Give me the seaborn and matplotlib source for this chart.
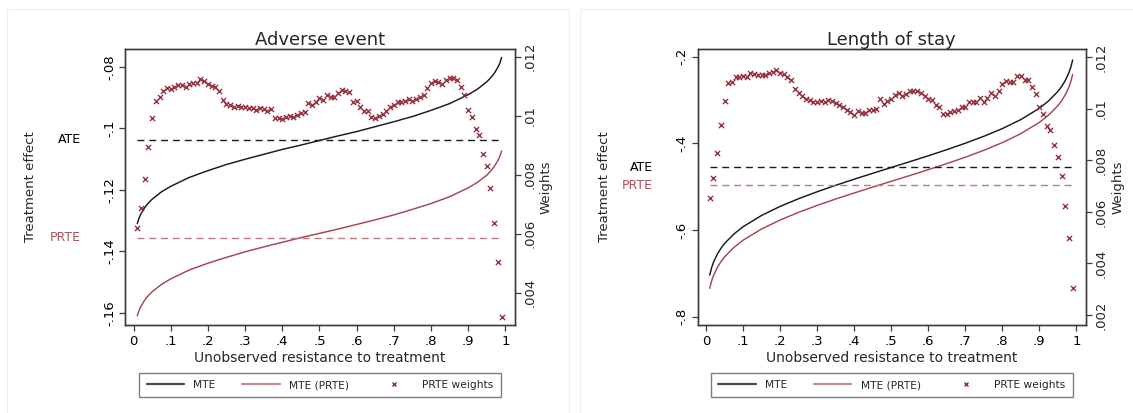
import numpy as np
import pandas as pd
import matplotlib
matplotlib.use("Agg")
import matplotlib.pyplot as plt
import seaborn as sns
from matplotlib.lines import Line2D
from matplotlib.patches import Rectangle

# ---------------- data ----------------
u_curve = [0.01, 0.015, 0.02, 0.03, 0.04, 0.05, 0.075, 0.1, 0.15, 0.2, 0.25, 0.3,
           0.35, 0.4, 0.45, 0.5, 0.55, 0.6, 0.65, 0.7, 0.75, 0.8, 0.85, 0.9,
           0.925, 0.95, 0.96, 0.97, 0.98, 0.985, 0.99]

ae_mte = [-0.1310, -0.1292, -0.1278, -0.1258, -0.1243, -0.1231, -0.1207, -0.1189,
          -0.1160, -0.1138, -0.1118, -0.1101, -0.1085, -0.1069, -0.1055, -0.1040,
          -0.1025, -0.1011, -0.0995, -0.0979, -0.0962, -0.0942, -0.0920, -0.0891,
          -0.0873, -0.0849, -0.0837, -0.0822, -0.0802, -0.0789, -0.0770]
ae_mte_prte = [-0.1610, -0.1592, -0.1579, -0.1559, -0.1544, -0.1532, -0.1508, -0.1490,
               -0.1461, -0.1439, -0.1420, -0.1402, -0.1386, -0.1371, -0.1356, -0.1342,
               -0.1328, -0.1313, -0.1298, -0.1282, -0.1264, -0.1245, -0.1223, -0.1194,
               -0.1176, -0.1153, -0.1140, -0.1125, -0.1105, -0.1092, -0.1074]
ae_ate = -0.1038
ae_prte = -0.1356

los_mte = [-0.7039, -0.6872, -0.6749, -0.6564, -0.6425, -0.6312, -0.6094, -0.5924,
           -0.5663, -0.5455, -0.5277, -0.5117, -0.4968, -0.4827, -0.4691, -0.4557,
           -0.4423, -0.4287, -0.4146, -0.3997, -0.3837, -0.3659, -0.3451, -0.3190,
           -0.3021, -0.2802, -0.2689, -0.2550, -0.2365, -0.2242, -0.2075]
los_mte_prte = [-0.7344, -0.7178, -0.7055, -0.6872, -0.6734, -0.6621, -0.6404, -0.6236,
                -0.5976, -0.5769, -0.5592, -0.5432, -0.5285, -0.5145, -0.5009, -0.4876,
                -0.4743, -0.4607, -0.4467, -0.4320, -0.4160, -0.3983, -0.3776, -0.3516,
                -0.3348, -0.3131, -0.3018, -0.2880, -0.2697, -0.2574, -0.2408]
los_ate = -0.4546
los_prte = -0.4961

u_w = [i / 100 for i in range(1, 100)]

ae_w = [0.00618, 0.00686, 0.00786, 0.00895, 0.00993, 0.01050, 0.01064, 0.01085, 0.01094, 0.01089,
        0.01098, 0.01103, 0.01105, 0.01097, 0.01106, 0.01110, 0.01112, 0.01125, 0.01118, 0.01106,
        0.01099, 0.01096, 0.01083, 0.01053, 0.01038, 0.01035, 0.01028, 0.01033, 0.01029, 0.01031,
        0.01027, 0.01025, 0.01019, 0.01027, 0.01023, 0.01017, 0.01023, 0.00993, 0.00993, 0.00990,
        0.00994, 0.00998, 0.00997, 0.01001, 0.01008, 0.01011, 0.01042, 0.01035, 0.01045, 0.01060,
        0.01053, 0.01069, 0.01063, 0.01064, 0.01078, 0.01086, 0.01085, 0.01081, 0.01048, 0.01050,
        0.01031, 0.01016, 0.01017, 0.00997, 0.00992, 0.00999, 0.01005, 0.01017, 0.01031, 0.01036,
        0.01046, 0.01045, 0.01051, 0.01055, 0.01051, 0.01058, 0.01064, 0.01071, 0.01093, 0.01112,
        0.01118, 0.01114, 0.01106, 0.01121, 0.01127, 0.01128, 0.01121, 0.01098, 0.01070, 0.01019,
        0.00997, 0.00955, 0.00935, 0.00869, 0.00831, 0.00755, 0.00635, 0.00505, 0.00319]

los_w = [0.00654, 0.00730, 0.00830, 0.00939, 0.01032, 0.01101, 0.01104, 0.01122, 0.01124, 0.01128,
         0.01124, 0.01140, 0.01135, 0.01133, 0.01131, 0.01131, 0.01141, 0.01144, 0.01150, 0.01141,
         0.01137, 0.01124, 0.01112, 0.01076, 0.01063, 0.01050, 0.01040, 0.01035, 0.01028, 0.01028,
         0.01032, 0.01028, 0.01035, 0.01031, 0.01024, 0.01015, 0.01006, 0.00994, 0.00986, 0.00977,
         0.00991, 0.00983, 0.00983, 0.00994, 0.00996, 0.01001, 0.01037, 0.01019, 0.01030, 0.01037,
         0.01053, 0.01060, 0.01051, 0.01058, 0.01069, 0.01069, 0.01069, 0.01063, 0.01050, 0.01040,
         0.01035, 0.01015, 0.01009, 0.00981, 0.00981, 0.00986, 0.00992, 0.00996, 0.01006, 0.01009,
         0.01028, 0.01026, 0.01028, 0.01041, 0.01028, 0.01042, 0.01060, 0.01050, 0.01069, 0.01096,
         0.01108, 0.01105, 0.01103, 0.01127, 0.01127, 0.01112, 0.01112, 0.01086, 0.01056, 0.01006,
         0.00980, 0.00932, 0.00917, 0.00860, 0.00815, 0.00740, 0.00624, 0.00500, 0.00306]

x_ticks = [0, 0.1, 0.2, 0.3, 0.4, 0.5, 0.6, 0.7, 0.8, 0.9, 1.0]
x_ticklabels = ["0", ".1", ".2", ".3", ".4", ".5", ".6", ".7", ".8", ".9", "1"]

ae_yticks = [-0.16, -0.14, -0.12, -0.10, -0.08]
ae_yticklabels = ["-.16", "-.14", "-.12", "-.1", "-.08"]
ae_wticks = [0.004, 0.006, 0.008, 0.010, 0.012]
ae_wticklabels = [".004", ".006", ".008", ".01", ".012"]

los_yticks = [-0.8, -0.6, -0.4, -0.2]
los_yticklabels = ["-.8", "-.6", "-.4", "-.2"]
los_wticks = [0.002, 0.004, 0.006, 0.008, 0.010, 0.012]
los_wticklabels = [".002", ".004", ".006", ".008", ".01", ".012"]

titles = ["Adverse event", "Length of stay"]
legend_labels = ["MTE", "MTE (PRTE)", "PRTE weights"]

# ---------------- style ----------------
sns.set_theme(style="ticks")
plt.rcParams["font.family"] = ["DejaVu Sans"]

BLACK = "#1a1a1a"
RED = "#a5464f"
RED_DASH = "#c07a80"
MARK = "#962d3a"
SPINE = "#3c3c3c"

W, H = 1133, 413
fig = plt.figure(figsize=(W / 100, H / 100), dpi=100)
fig.patch.set_facecolor("white")

# faint panel region borders
for x0, x1 in [(7, 569), (580, 1140)]:
    fig.add_artist(Rectangle((x0 / W, -0.02), (x1 - x0) / W, 1 - 9 / H + 0.02,
                             transform=fig.transFigure, fill=False,
                             edgecolor="#efefef", lw=0.8))

panels = [
    dict(box=(125, 515), title=titles[0], mte=ae_mte, mprte=ae_mte_prte, ate=ae_ate,
         prte=ae_prte, w=ae_w, yt=ae_yticks, ytl=ae_yticklabels, ylim=(-0.16400, -0.07424),
         wt=ae_wticks, wtl=ae_wticklabels, wlim=(0.002905, 0.01226),
         lab_x=-0.2256, ate_x=-0.1128, wlab_x=1.064),
    dict(box=(697.5, 1086), title=titles[1], mte=los_mte, mprte=los_mte_prte, ate=los_ate,
         prte=los_prte, w=los_w, yt=los_yticks, ytl=los_yticklabels, ylim=(-0.8192, -0.1822),
         wt=los_wticks, wtl=los_wticklabels, wlim=(0.001612, 0.012322),
         lab_x=-0.2226, ate_x=-0.1145, wlab_x=1.067),
]

for p in panels:
    x0, x1 = p["box"]
    ax = fig.add_axes([x0 / W, 1 - 325 / H, (x1 - x0) / W, 276 / H])
    ax.set_facecolor("white")
    df = pd.DataFrame({"u": u_curve, "MTE": p["mte"], "MTE (PRTE)": p["mprte"]})
    sns.lineplot(data=df, x="u", y="MTE", ax=ax, color=BLACK, lw=1.05)
    sns.lineplot(data=df, x="u", y="MTE (PRTE)", ax=ax, color=RED, lw=1.05)
    ax.hlines(p["ate"], u_curve[0], u_curve[-1], color=BLACK, lw=1.0,
              linestyles=[(0, (5, 3.5))])
    ax.hlines(p["prte"], u_curve[0], u_curve[-1], color=RED_DASH, lw=1.0,
              linestyles=[(0, (5, 3.5))])
    ax.set_xlim(-0.023, 1.026)
    ax.set_ylim(*p["ylim"])
    ax.set_xticks(x_ticks, x_ticklabels, fontsize=9.5)
    ax.set_yticks(p["yt"], p["ytl"], fontsize=9.5, rotation=90, va="center")
    ax.set_xlabel("Unobserved resistance to treatment", fontsize=10, labelpad=2)
    ax.set_ylabel("Treatment effect", fontsize=9.5)
    ax.yaxis.set_label_coords(p["lab_x"], 0.5)
    ax.set_title(p["title"], fontsize=13, pad=2.5)
    ax.tick_params(axis="both", direction="out", length=4.3, width=0.9, color=SPINE,
                   labelcolor="black")
    ax.tick_params(axis="x", pad=3)
    ax.tick_params(axis="y", pad=2)
    tr = matplotlib.transforms.blended_transform_factory(ax.transAxes, ax.transData)
    ax.text(p["ate_x"], p["ate"], "ATE", transform=tr, ha="right", va="center",
            fontsize=9, color="black")
    ax.text(p["ate_x"], p["prte"], "PRTE", transform=tr, ha="right", va="center",
            fontsize=9, color="#a9525a")

    ax2 = ax.twinx()
    sns.scatterplot(x=u_w, y=p["w"], ax=ax2, marker="x", color=MARK, s=14,
                    linewidth=0.95, legend=False)
    ax2.set_ylim(*p["wlim"])
    ax2.set_yticks(p["wt"], p["wtl"], fontsize=9.5, rotation=90, va="center")
    ax2.set_ylabel("Weights", fontsize=9.5)
    ax2.yaxis.set_label_coords(p["wlab_x"], 0.5)
    ax2.tick_params(axis="y", direction="out", length=4.3, width=0.9, color=SPINE, pad=2)
    for a in (ax, ax2):
        for s in a.spines.values():
            s.set_visible(True)
            s.set_color(SPINE)
            s.set_linewidth(1.0)

    handles = [Line2D([], [], color="#4a4a4a", lw=1.6),
               Line2D([], [], color="#c48a8e", lw=1.6),
               Line2D([], [], ls="none", marker="x", color=MARK, ms=3.5, mew=1.0)]
    cx = ((x0 + x1) / 2) / W
    leg = fig.legend(handles, legend_labels, loc="center", bbox_to_anchor=(cx, 1 - 385 / H),
                     ncol=3, fontsize=7.7, frameon=True, fancybox=False, framealpha=1,
                     edgecolor="#7f7f7f", handlelength=3.5, handletextpad=0.85,
                     columnspacing=2.5, borderpad=0.7, borderaxespad=0)
    leg.get_frame().set_linewidth(1.0)

fig.savefig("out.png", dpi=100, facecolor="white")
